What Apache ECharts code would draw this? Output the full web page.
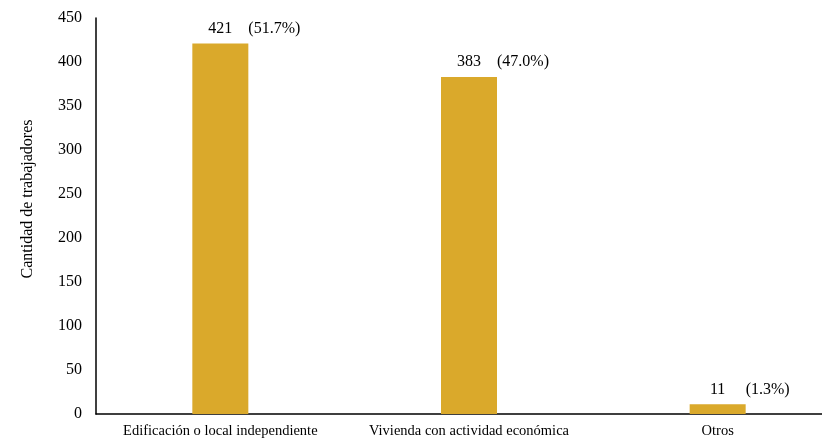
<!DOCTYPE html>
<html><head><meta charset="utf-8">
<script src="https://cdn.jsdelivr.net/npm/echarts@6/dist/echarts.min.js"></script>
<style>html,body{margin:0;padding:0;background:#fff;overflow:hidden;width:822px;height:438px}#c{width:842px;height:438px}</style>
</head><body><div id="c"></div>
<script>
const categories = ['Edificación o local independiente', 'Vivienda con actividad económica', 'Otros'];
const values = [421, 383, 11];
const percents = ['(51.7%)', '(47.0%)', '(1.3%)'];
const yTicks = [0, 50, 100, 150, 200, 250, 300, 350, 400, 450];

const font = 'Liberation Serif';
const chart = echarts.init(document.getElementById('c'));
chart.setOption({
  animation: false,
  textStyle: { fontFamily: font },
  grid: { left: 96, top: 18, bottom: 24, right: 0, outerBoundsMode: 'none', containLabel: false },
  xAxis: {
    type: 'category', data: categories,
    axisLine: { lineStyle: { color: '#000', width: 1.5 } },
    axisTick: { show: false },
    axisLabel: { color: '#000', fontFamily: font, fontSize: 14.5, margin: 10, interval: 0, hideOverlap: false }
  },
  yAxis: {
    type: 'value', min: yTicks[0], max: yTicks[yTicks.length - 1], interval: 50,
    axisLine: { show: true, lineStyle: { color: '#000', width: 1.5 } },
    axisTick: { show: false },
    splitLine: { show: false },
    axisLabel: { color: '#000', fontFamily: font, fontSize: 16, margin: 14, padding: [4, 0, 0, 0] }
  },
  graphic: [{
    type: 'text', rotation: Math.PI / 2,
    x: 28, y: 199,
    style: { text: 'Cantidad de trabajadores', fill: '#000', font: '16px "Liberation Serif"', align: 'center', verticalAlign: 'middle' }
  }],
  series: [{
    type: 'bar', data: values, barWidth: 56,
    itemStyle: { color: '#DAA92B' },
    label: { show: true, position: 'top', distance: 7, color: '#000', fontFamily: font, fontSize: 16 }
  }, {
    type: 'bar', data: values, barWidth: 56, barGap: '-100%',
    itemStyle: { color: 'rgba(0,0,0,0)' },
    label: {
      show: true, position: 'top', distance: 7, align: 'left', offset: [28, 0],
      color: '#000', fontFamily: font, fontSize: 16,
      formatter: p => percents[p.dataIndex]
    }
  }]
});
</script></body></html>
